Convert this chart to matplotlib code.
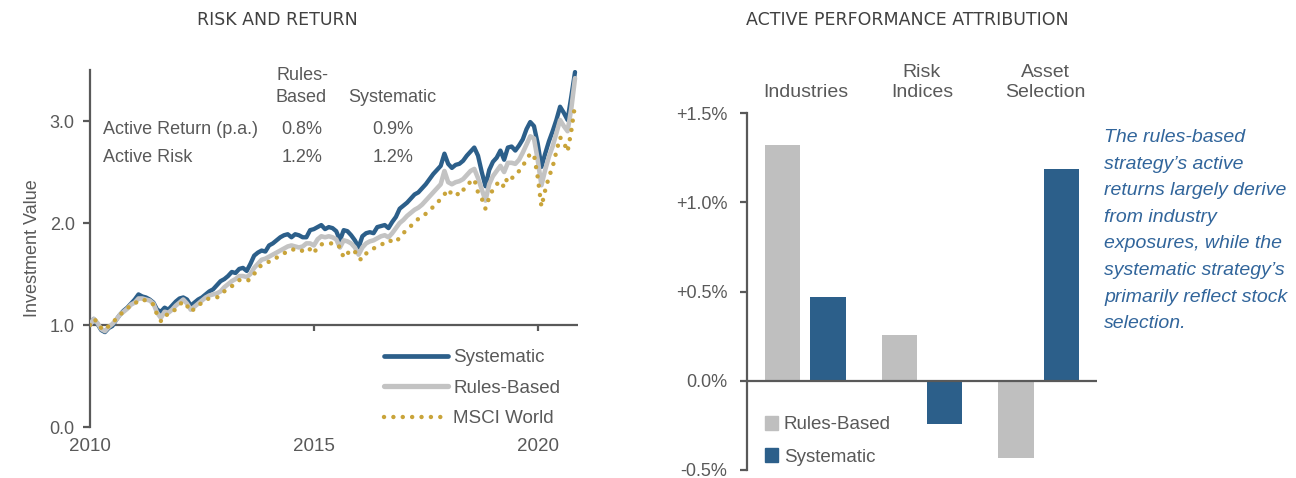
import numpy as np
import matplotlib
matplotlib.use("Agg")
import matplotlib.pyplot as plt
from matplotlib.patches import Patch
from matplotlib.lines import Line2D

# ---------------- data ----------------
start_year = 2010
systematic = [1.00, 1.06, 1.01, 0.95, 0.93, 0.97, 0.99, 1.05, 1.10, 1.14, 1.17, 1.21,
              1.25, 1.30, 1.28, 1.27, 1.25, 1.22, 1.15, 1.13, 1.17, 1.15, 1.19, 1.23,
              1.26, 1.27, 1.25, 1.19, 1.22, 1.25, 1.27, 1.30, 1.33, 1.35, 1.39, 1.43,
              1.45, 1.48, 1.52, 1.51, 1.55, 1.56, 1.53, 1.60, 1.68, 1.71, 1.73, 1.72,
              1.78, 1.80, 1.83, 1.86, 1.88, 1.89, 1.86, 1.89, 1.88, 1.86, 1.86, 1.93,
              1.94, 1.96, 1.98, 1.94, 1.96, 1.95, 1.92, 1.83, 1.93, 1.92, 1.88, 1.83,
              1.76, 1.87, 1.90, 1.91, 1.90, 1.96, 1.97, 1.98, 1.95, 2.01, 2.06, 2.14,
              2.17, 2.20, 2.24, 2.28, 2.30, 2.34, 2.38, 2.43, 2.48, 2.52, 2.56, 2.68,
              2.58, 2.54, 2.57, 2.58, 2.61, 2.66, 2.70, 2.74, 2.66, 2.50, 2.36, 2.52,
              2.60, 2.64, 2.71, 2.62, 2.74, 2.75, 2.71, 2.76, 2.82, 2.92, 2.99, 2.95,
              2.78, 2.55, 2.68, 2.80, 2.90, 3.01, 3.14, 3.08, 3.01, 3.24, 3.48]
rules_based = [1.00, 1.06, 1.02, 0.96, 0.94, 0.98, 1.01, 1.05, 1.10, 1.13, 1.16, 1.20,
               1.22, 1.26, 1.26, 1.25, 1.24, 1.21, 1.12, 1.07, 1.13, 1.12, 1.15, 1.19,
               1.22, 1.25, 1.21, 1.15, 1.18, 1.21, 1.24, 1.27, 1.29, 1.30, 1.31, 1.33,
               1.37, 1.40, 1.43, 1.45, 1.48, 1.48, 1.47, 1.50, 1.56, 1.60, 1.64, 1.65,
               1.67, 1.69, 1.71, 1.73, 1.75, 1.77, 1.78, 1.77, 1.76, 1.77, 1.80, 1.80,
               1.78, 1.84, 1.87, 1.86, 1.87, 1.86, 1.84, 1.76, 1.83, 1.82, 1.80, 1.76,
               1.69, 1.76, 1.80, 1.82, 1.83, 1.85, 1.87, 1.88, 1.86, 1.90, 1.95, 2.00,
               2.03, 2.07, 2.10, 2.13, 2.15, 2.18, 2.22, 2.26, 2.30, 2.34, 2.38, 2.51,
               2.40, 2.38, 2.40, 2.41, 2.43, 2.47, 2.51, 2.53, 2.44, 2.33, 2.22, 2.38,
               2.46, 2.51, 2.56, 2.50, 2.59, 2.59, 2.58, 2.62, 2.69, 2.77, 2.85, 2.83,
               2.62, 2.37, 2.52, 2.65, 2.75, 2.88, 3.01, 2.95, 2.90, 3.12, 3.42]
msci_world = [1.00, 1.06, 1.03, 0.97, 0.95, 0.99, 1.02, 1.06, 1.10, 1.13, 1.16, 1.20,
              1.21, 1.24, 1.25, 1.24, 1.23, 1.20, 1.10, 1.04, 1.10, 1.10, 1.12, 1.16,
              1.20, 1.23, 1.19, 1.13, 1.16, 1.19, 1.22, 1.25, 1.26, 1.27, 1.27, 1.29,
              1.33, 1.36, 1.38, 1.41, 1.44, 1.44, 1.43, 1.45, 1.50, 1.55, 1.59, 1.61,
              1.62, 1.63, 1.66, 1.68, 1.70, 1.73, 1.74, 1.74, 1.72, 1.73, 1.76, 1.74,
              1.70, 1.77, 1.79, 1.80, 1.80, 1.80, 1.80, 1.76, 1.66, 1.70, 1.74, 1.72,
              1.65, 1.64, 1.70, 1.73, 1.75, 1.77, 1.79, 1.80, 1.83, 1.82, 1.81, 1.86,
              1.90, 1.94, 1.97, 2.01, 2.04, 2.07, 2.09, 2.12, 2.16, 2.19, 2.24, 2.28,
              2.33, 2.28, 2.30, 2.27, 2.32, 2.38, 2.40, 2.43, 2.30, 2.24, 2.14, 2.25,
              2.33, 2.38, 2.41, 2.35, 2.46, 2.44, 2.46, 2.51, 2.56, 2.62, 2.68, 2.67,
              2.45, 2.16, 2.32, 2.45, 2.55, 2.70, 2.84, 2.79, 2.70, 2.90, 3.16]
years = start_year + np.arange(len(systematic)) / 12.0

table_rows = ["Active Return (p.a.)", "Active Risk"]
table_rules = ["0.8%", "1.2%"]
table_sys = ["0.9%", "1.2%"]

categories = ["Industries", "Risk\nIndices", "Asset\nSelection"]
attr_rules = [1.32, 0.255, -0.435]
attr_sys = [0.47, -0.245, 1.185]

# ---------------- style ----------------
FONT = ["Liberation Sans", "DejaVu Sans"]
plt.rcParams["font.family"] = FONT
TXT = "#595959"
BLUE = "#2C5F8A"
GRAY = "#C3C3C3"
GOLD = "#C9A43A"
AX = "#595959"
FS = 13

fig = plt.figure(figsize=(12.96, 4.78), dpi=100)

def fx(px):
    return px / 1296.0

def fy(py):
    return 1 - py / 478.0

MSCI_STYLE = dict(color=GOLD, lw=3.2, linestyle=(0, (0.01, 2.1)), dash_capstyle="round")

# ---------------- left chart ----------------
ax1 = fig.add_axes([fx(90), fy(427), fx(578) - fx(90), fy(70) - fy(427)])
ax1.plot(years, systematic, color=BLUE, lw=3.1, solid_capstyle="round", zorder=3)
ax1.plot(years, rules_based, color=GRAY, lw=3.3, solid_capstyle="round", zorder=4)
ax1.plot(years, msci_world, zorder=5, **MSCI_STYLE)
ax1.set_xlim(2010, 2020.9)
ax1.set_ylim(0, 3.5)
for s in ["top", "right", "bottom"]:
    ax1.spines[s].set_visible(False)
ax1.spines["left"].set_color(AX)
ax1.spines["left"].set_linewidth(1.6)
ax1.set_yticks([0, 1, 2, 3])
ax1.set_yticklabels(["0.0", "1.0", "2.0", "3.0"])
ax1.set_xticks([2010, 2015, 2020])
ax1.set_xticklabels(["2010", "2015", "2020"])
ax1.tick_params(axis="y", colors=AX, labelcolor=TXT, labelsize=FS, length=5, width=1.6, pad=6)
ax1.tick_params(axis="x", length=0, labelcolor=TXT, labelsize=FS + 0.5, pad=8)
ax1.axhline(1.0, color=AX, lw=1.6, zorder=2)
ax1.vlines([2015, 2020], 0.94, 1.0, color=AX, lw=1.6, zorder=2)
ax1.set_ylabel("Investment Value", color=TXT, fontsize=FS, labelpad=6)

leg1 = ax1.legend(
    handles=[Line2D([], [], color=BLUE, lw=3.4, solid_capstyle="round"),
             Line2D([], [], color=GRAY, lw=3.8, solid_capstyle="round"),
             Line2D([], [], **MSCI_STYLE)],
    labels=["Systematic", "Rules-Based", "MSCI World"],
    loc="upper left", bbox_to_anchor=(fx(384), fy(349)), bbox_transform=fig.transFigure,
    frameon=False, fontsize=13.5, handlelength=3.4, handletextpad=0.3,
    labelspacing=0.72, borderpad=0, borderaxespad=0)
for t in leg1.get_texts():
    t.set_color(TXT)

# table text
fig.text(fx(303), fy(75), "Rules-", ha="center", va="center", color=TXT, fontsize=FS)
fig.text(fx(301), fy(98), "Based", ha="center", va="center", color=TXT, fontsize=FS)
fig.text(fx(392), fy(98), "Systematic", ha="center", va="center", color=TXT, fontsize=FS)
row_y = [129, 158]
for ry, lab, rv, sv in zip(row_y, table_rows, table_rules, table_sys):
    fig.text(fx(103), fy(ry), lab, ha="left", va="center", color=TXT, fontsize=FS)
    fig.text(fx(302), fy(ry), rv, ha="center", va="center", color=TXT, fontsize=FS)
    fig.text(fx(393), fy(ry), sv, ha="center", va="center", color=TXT, fontsize=FS)

fig.text(fx(277), fy(20), "RISK AND RETURN", ha="center", va="center",
         color="#404040", fontsize=12.5, family=["DejaVu Sans"])

# ---------------- right chart ----------------
ax2 = fig.add_axes([fx(747), fy(470), fx(1097) - fx(747), fy(113) - fy(470)])
xpos = np.arange(len(categories))
bw = 0.304
off = 0.194
ax2.bar(xpos - off, attr_rules, width=bw, color="#BFBFBF", zorder=2)
ax2.bar(xpos + off, attr_sys, width=bw, color=BLUE, zorder=2)
ax2.set_xlim(-0.5, 2.5)
ax2.set_ylim(-0.5, 1.5)
for s in ["top", "right", "bottom"]:
    ax2.spines[s].set_visible(False)
ax2.spines["left"].set_color(AX)
ax2.spines["left"].set_linewidth(1.6)
ax2.axhline(0, color=AX, lw=1.6, zorder=3)
ax2.set_xticks([])
ax2.set_yticks([-0.5, 0.0, 0.5, 1.0, 1.5])
ax2.set_yticklabels(["-0.5%", "0.0%", "+0.5%", "+1.0%", "+1.5%"])
ax2.tick_params(axis="y", colors=AX, labelcolor=TXT, labelsize=FS, length=5, width=1.6, pad=9)
cat_dx = [0.0, 0.0, 0.06]
for xi, cat, dx in zip(xpos, categories, cat_dx):
    ax2.text(xi + dx, 1.035, cat, transform=ax2.get_xaxis_transform(), ha="center",
             va="bottom", color=TXT, fontsize=14, linespacing=1.2)

leg2 = ax2.legend(
    handles=[Patch(color="#BFBFBF"), Patch(color=BLUE)],
    labels=["Rules-Based", "Systematic"],
    loc="upper left", bbox_to_anchor=(fx(765), fy(416)), bbox_transform=fig.transFigure,
    frameon=False, fontsize=13.5, handlelength=0.7, handleheight=0.75, handletextpad=0.3,
    labelspacing=0.8, borderpad=0, borderaxespad=0)
for t in leg2.get_texts():
    t.set_color(TXT)

fig.text(fx(907), fy(20), "ACTIVE PERFORMANCE ATTRIBUTION", ha="center", va="center",
         color="#404040", fontsize=12.5, family=["DejaVu Sans"])

note = ("The rules-based\nstrategy\u2019s active\nreturns largely derive\nfrom industry\n"
        "exposures, while the\nsystematic strategy\u2019s\nprimarily reflect stock\nselection.")
fig.text(fx(1104), fy(129), note, ha="left", va="top", color="#31659B", fontsize=14,
         style="italic", linespacing=1.74)

fig.savefig("out.png", dpi=100)
